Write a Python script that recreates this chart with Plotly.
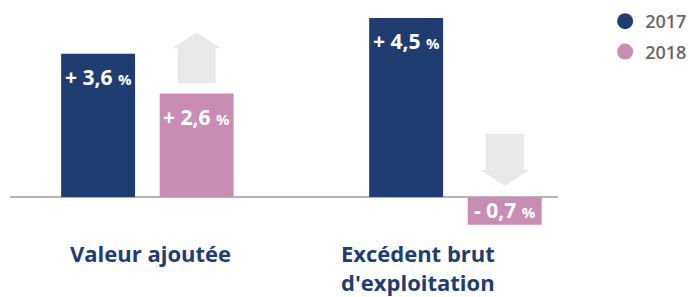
import plotly.graph_objects as go

categories = ["Valeur ajoutée", "Excédent brut<br>d'exploitation"]
years = ["2017", "2018"]
values_2017 = [3.6, 4.5]
values_2018 = [2.6, -0.7]
labels_2017 = ["+ 3,6", "+ 4,5"]
labels_2018 = ["+ 2,6", "- 0,7"]
trend_2018 = ["up", "down"]

BLUE = "#1f3d71"
PINK = "#c98db4"
ARROW = "#e8e8e8"
FONT = "Open Sans"

xpos = list(range(len(categories)))
OFF = 0.16
BW = 0.24
LABEL_SHIFT = [0.01, -0.122]  # horizontal placement of category labels

fig = go.Figure()
for vals, col, sign in [(values_2017, BLUE, -1), (values_2018, PINK, 1)]:
    fig.add_trace(go.Bar(x=[x + sign * OFF for x in xpos], y=vals, width=BW,
                         marker=dict(color=col, line=dict(width=0)),
                         showlegend=False, hoverinfo="skip"))

for name, col in zip(years, [BLUE, PINK]):
    fig.add_trace(go.Scatter(x=[None], y=[None], mode="markers", name=name,
                             marker=dict(color=col, size=17, symbol="circle"),
                             legendgroup=name))

# value labels
for vals, labs, sign in [(values_2017, labels_2017, -1), (values_2018, labels_2018, 1)]:
    for x, v, lab in zip(xpos, vals, labs):
        txt = lab + " <span style='font-size:15px'>%</span>"
        yy = v if v >= 0 else v / 2
        shift = -23 if v >= 0 else 1
        fig.add_annotation(x=x + sign * OFF, y=yy, yanchor="middle", yshift=shift,
                           text=txt, showarrow=False,
                           font=dict(family=FONT, size=21, color="white", weight="bold"))

# trend arrows over 2018 bars
HW, SW = 0.0795, 0.0617
for x, v, t in zip(xpos, values_2018, trend_2018):
    cx = x + OFF
    if t == "up":
        b = max(v, 0) + 0.26
        hb = max(v, 0) + 1.14
        tip = max(v, 0) + 1.53
    else:
        b = 1.58
        hb = 0.68
        tip = 0.28
    path = (f"M {cx-SW},{b} L {cx+SW},{b} L {cx+SW},{hb} L {cx+HW},{hb} "
            f"L {cx},{tip} L {cx-HW},{hb} L {cx-SW},{hb} Z")
    fig.add_shape(type="path", path=path, xref="x", yref="y",
                  fillcolor=ARROW, line=dict(width=0), layer="below")

fig.update_layout(
    width=696, height=297,
    margin=dict(l=10, r=138, t=10, b=67, autoexpand=False),
    paper_bgcolor="white", plot_bgcolor="white",
    barmode="overlay",
    showlegend=True,
    legend=dict(x=1.086, y=1.032, xanchor="left", yanchor="top",
                font=dict(family=FONT, size=18, color="#666666", weight=600),
                tracegroupgap=4, bgcolor="rgba(0,0,0,0)"),
    xaxis=dict(range=[-0.446, 1.333],
               tickvals=[x + s for x, s in zip(xpos, LABEL_SHIFT)], ticktext=categories,
               showgrid=False, zeroline=False, showline=False, ticks="",
               automargin=False, ticklabelstandoff=9,
               tickfont=dict(family=FONT, size=22, color=BLUE, weight="bold")),
    yaxis=dict(range=[-0.83, 4.70], showgrid=False, zeroline=True,
               zerolinecolor="#b3b3b3", zerolinewidth=1.5, automargin=False,
               showticklabels=False, ticks=""),
)

fig.write_html("out.html", config={"displayModeBar": False},
               post_script="document.body.style.margin='0';document.body.style.overflow='hidden';")
